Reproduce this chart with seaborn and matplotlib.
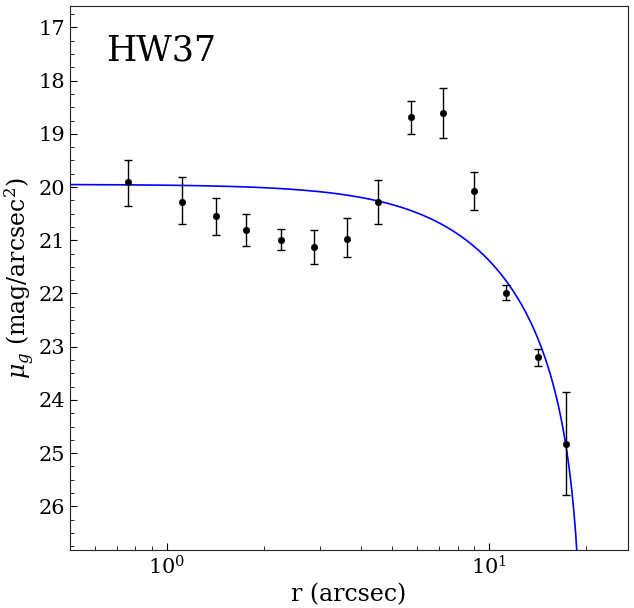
import numpy as np
import pandas as pd
import matplotlib
matplotlib.use('Agg')
import matplotlib.pyplot as plt
from matplotlib.ticker import MultipleLocator
import seaborn as sns

# Surface brightness profile of HW37
radius = [0.757, 1.113, 1.418, 1.769, 2.27, 2.87, 3.63, 4.53, 5.75, 7.22, 9.01, 11.3, 14.2, 17.4]
mu_g = [19.91, 20.29, 20.55, 20.80, 21.00, 21.12, 20.97, 20.29, 18.68, 18.60, 20.07, 21.99, 23.20, 24.83]
mu_err_up = [0.41, 0.47, 0.35, 0.30, 0.22, 0.32, 0.38, 0.43, 0.30, 0.47, 0.36, 0.15, 0.15, 0.97]
mu_err_down = [0.44, 0.41, 0.36, 0.30, 0.19, 0.33, 0.35, 0.41, 0.32, 0.47, 0.36, 0.14, 0.17, 0.96]

# King model fit parameters
mu0 = 19.95
r_core = 12.0
r_tidal = 19.8

sns.set_style('ticks')
plt.rcParams['font.family'] = ['DejaVu Serif']
plt.rcParams['mathtext.fontset'] = 'dejavuserif'
plt.rcParams['xtick.direction'] = 'in'
plt.rcParams['ytick.direction'] = 'in'
plt.rcParams['text.color'] = 'black'
plt.rcParams['axes.labelcolor'] = 'black'
plt.rcParams['xtick.color'] = 'black'
plt.rcParams['ytick.color'] = 'black'

df = pd.DataFrame({'r': radius, 'mu': mu_g})

r_model = np.logspace(np.log10(0.5), np.log10(r_tidal * 0.9999), 600)
a = 1 / np.sqrt(1 + (r_tidal / r_core) ** 2)
f = 1 / np.sqrt(1 + (r_model / r_core) ** 2)
mu_model = mu0 - 5 * np.log10((f - a) / (1 - a))
model = pd.DataFrame({'r': r_model, 'mu': mu_model})

fig = plt.figure(figsize=(6.34, 6.08), dpi=100)
ax = fig.add_axes([0.110, 0.0954, 0.880, 0.8946])

sns.lineplot(x='r', y='mu', data=model, ax=ax, color='blue', linewidth=1.2, sort=False)
ax.errorbar(df['r'], df['mu'], yerr=[mu_err_up, mu_err_down], fmt='none',
            ecolor='black', elinewidth=1, capsize=3, capthick=1)
sns.scatterplot(x='r', y='mu', data=df, ax=ax, color='black', s=22, edgecolor='black', zorder=3)

ax.set_xscale('log')
ax.set_xlim(0.5, 27)
ax.set_ylim(26.82, 16.6)
ax.yaxis.set_major_locator(MultipleLocator(1))
ax.yaxis.set_minor_locator(MultipleLocator(0.25))
ax.tick_params(labelsize=15)
ax.tick_params(which='major', length=5)
ax.tick_params(which='minor', length=3)

ax.set_xlabel('r (arcsec)', fontsize=17)
ax.set_ylabel(r'$\mu_g$ (mag/arcsec$^2$)', fontsize=17, labelpad=1)
ax.text(0.066, 0.95, 'HW37', transform=ax.transAxes, fontsize=25, va='top', ha='left')

for sp in ax.spines.values():
    sp.set_color('#222222')

plt.savefig('out.png', dpi=100)
plt.close()
